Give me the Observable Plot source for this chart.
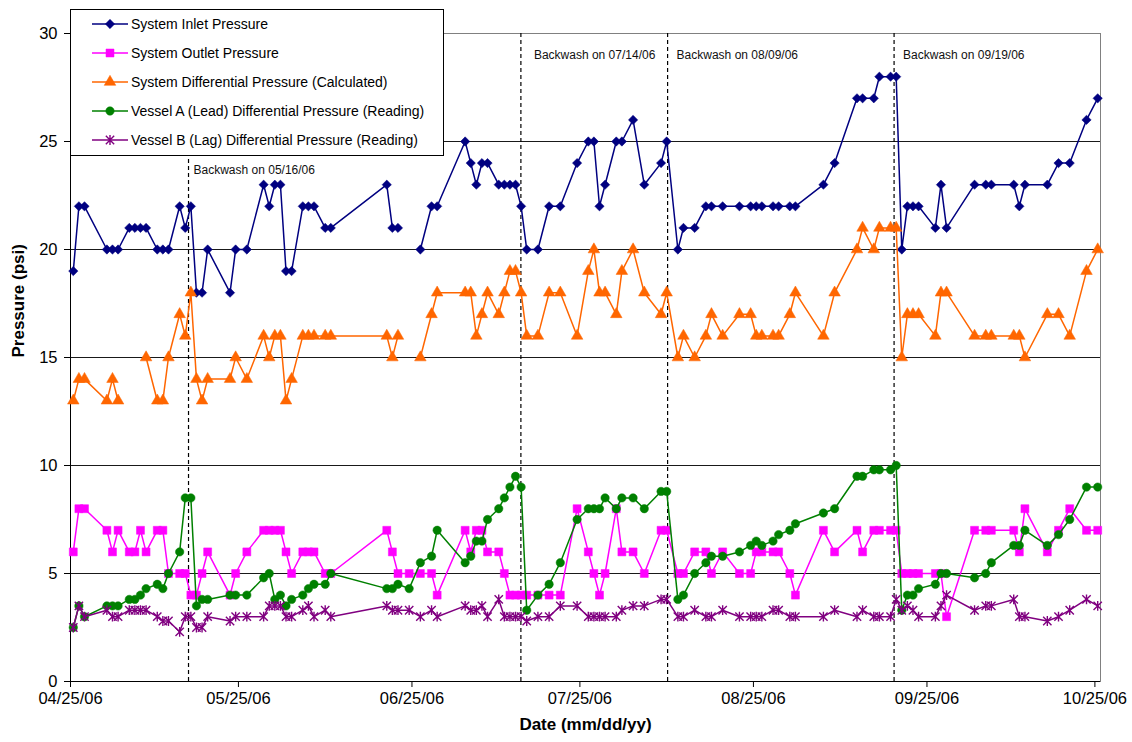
<!DOCTYPE html>
<html><head><meta charset="utf-8">
<script src="https://cdn.jsdelivr.net/npm/d3@7"></script>
<script src="https://cdn.jsdelivr.net/npm/@observablehq/plot@0.6"></script>
<style>
body{margin:0;background:#fff;font-family:"Liberation Sans",Arial,sans-serif}
</style>
</head><body><div id="chart"></div>
<script>
// ---------------- DATA ----------------
const dates = [
 "2006-04-25","2006-04-26","2006-04-27","2006-05-01","2006-05-02","2006-05-03","2006-05-05","2006-05-06","2006-05-07","2006-05-08",
 "2006-05-10","2006-05-11","2006-05-12","2006-05-14","2006-05-15","2006-05-16","2006-05-17","2006-05-18","2006-05-19","2006-05-23",
 "2006-05-24","2006-05-26","2006-05-29","2006-05-30","2006-05-31","2006-06-01","2006-06-02","2006-06-03","2006-06-05","2006-06-06",
 "2006-06-07","2006-06-09","2006-06-10","2006-06-20","2006-06-21","2006-06-22","2006-06-24","2006-06-26","2006-06-28","2006-06-29",
 "2006-07-04","2006-07-05","2006-07-06","2006-07-07","2006-07-08","2006-07-10","2006-07-11","2006-07-12","2006-07-13","2006-07-14",
 "2006-07-15","2006-07-17","2006-07-19","2006-07-21","2006-07-24","2006-07-26","2006-07-27","2006-07-28","2006-07-29","2006-07-31",
 "2006-08-01","2006-08-03","2006-08-05","2006-08-08","2006-08-09","2006-08-11","2006-08-12","2006-08-14","2006-08-16","2006-08-17",
 "2006-08-19","2006-08-22","2006-08-24","2006-08-25","2006-08-26","2006-08-28","2006-08-29","2006-08-31","2006-09-01","2006-09-06",
 "2006-09-08","2006-09-12","2006-09-13","2006-09-15","2006-09-16","2006-09-18","2006-09-19","2006-09-20","2006-09-21","2006-09-22",
 "2006-09-23","2006-09-26","2006-09-27","2006-09-28","2006-10-03","2006-10-05","2006-10-06","2006-10-10","2006-10-11","2006-10-12",
 "2006-10-16","2006-10-18","2006-10-20","2006-10-23","2006-10-25"
];
const inletPressure = [
 19,22,22,20,20,20,21,21,21,21,
 20,20,20,22,21,22,18,18,20,18,
 20,20,23,22,23,23,19,19,22,22,
 22,21,21,23,21,21,null,20,22,22,
 25,24,23,24,24,23,23,23,23,22,
 20,20,22,22,24,25,25,22,23,25,
 25,26,23,24,25,20,21,21,22,22,
 22,22,22,22,22,22,22,22,22,23,
 24,27,27,27,28,28,28,20,22,22,
 22,21,23,21,23,23,23,23,22,23,
 23,24,24,26,27
];
const outletPressure = [
 6,8,8,7,6,7,6,6,7,6,
 7,7,5,5,5,4,4,5,6,4,
 5,6,7,7,7,7,6,5,6,6,
 6,5,5,7,6,5,5,5,5,4,
 7,6,7,7,6,6,5,4,4,4,
 4,4,4,4,8,6,5,4,5,8,
 6,6,5,7,7,5,5,6,6,5,
 6,5,5,6,6,6,6,5,4,7,
 6,7,6,7,7,7,7,5,5,5,
 5,5,5,3,7,7,7,7,6,8,
 6,7,8,7,7
];
const systemDifferential = [
 13,14,14,13,14,13,null,null,null,15,
 13,13,15,17,16,18,14,13,14,14,
 15,14,16,15,16,16,13,14,16,16,
 16,16,16,16,15,16,null,15,17,18,
 18,18,16,17,18,17,18,19,19,18,
 16,16,18,18,16,19,20,18,18,17,
 19,20,18,17,18,15,16,15,16,17,
 16,17,17,16,16,16,16,17,18,16,
 18,20,21,20,21,21,21,15,17,17,
 17,16,18,18,16,16,16,16,16,15,
 17,17,16,19,20
];
const vesselADifferential = [
 2.5,3.5,3.0,3.5,3.5,3.5,3.8,3.8,4.0,4.3,
 4.5,4.3,5.0,6.0,8.5,8.5,3.5,3.8,3.8,4.0,
 4.0,4.0,4.8,5.0,3.8,4.0,3.5,3.8,4.0,4.3,
 4.5,4.5,5.0,4.3,4.3,4.5,4.3,5.5,5.8,7.0,
 5.5,5.8,6.5,6.5,7.5,8.0,8.5,9.0,9.5,9.0,
 3.3,4.0,4.5,5.5,7.5,8.0,8.0,8.0,8.5,8.0,
 8.5,8.5,8.0,8.8,8.8,3.8,4.0,5.0,5.5,5.8,
 5.8,6.0,6.3,6.5,6.3,6.5,6.8,7.0,7.3,7.8,
 8.0,9.5,9.5,9.8,9.8,9.8,10.0,3.3,4.0,4.0,
 4.3,4.5,5.0,5.0,4.8,5.0,5.5,6.3,6.3,7.0,
 6.3,6.8,7.5,9.0,9.0
];
const vesselBDifferential = [
 2.5,3.5,3.0,3.3,3.0,3.0,3.3,3.3,3.3,3.3,
 3.0,2.8,2.8,2.3,3.0,3.0,2.5,2.5,3.0,2.8,
 3.0,3.0,3.0,3.5,3.5,3.5,3.0,3.0,3.3,3.5,
 3.0,3.3,3.0,3.5,3.3,3.3,3.3,3.0,3.3,3.0,
 3.5,3.3,3.3,3.5,3.0,3.8,3.0,3.0,3.0,3.0,
 2.8,3.0,3.0,3.5,3.5,3.0,3.0,3.0,3.0,3.0,
 3.3,3.5,3.5,3.8,3.8,3.0,3.0,3.3,3.0,3.0,
 3.3,3.0,3.0,3.0,3.0,3.3,3.3,3.0,3.0,3.0,
 3.3,3.0,3.3,3.0,3.0,3.0,3.8,3.3,3.5,3.3,
 3.0,3.0,3.5,4.0,3.3,3.5,3.5,3.8,3.0,3.0,
 2.8,3.0,3.3,3.8,3.5
];
const seriesNames = [
 "System Inlet Pressure",
 "System Outlet Pressure",
 "System Differential Pressure (Calculated)",
 "Vessel A (Lead) Differential Pressure (Reading)",
 "Vessel B (Lag) Differential Pressure (Reading)"
];
const backwashTimes = ["2006-05-16T02:00","2006-07-14T11:00","2006-08-09T16:00","2006-09-19T03:00"];
const backwashLabels = ["Backwash on 05/16/06","Backwash on 07/14/06","Backwash on 08/09/06","Backwash on 09/19/06"];
const xTickDates = ["2006-04-25","2006-05-25","2006-06-25","2006-07-25","2006-08-25","2006-09-25","2006-10-25"];
const xDomain = ["2006-04-25","2006-10-26"];
const yTicks = [0,5,10,15,20,25,30];

// ---------------- BUILD ----------------
const parseDay = d3.utcParse("%Y-%m-%d");
const parseTime = d3.utcParse("%Y-%m-%dT%H:%M");

const star = {
  draw(ctx, size) {
    const a = Math.sqrt(size / Math.PI);
    const b = a * 0.85;
    ctx.moveTo(0, -a); ctx.lineTo(0, a);
    ctx.moveTo(-b, -b); ctx.lineTo(b, b);
    ctx.moveTo(-b, b); ctx.lineTo(b, -b);
  }
};

const seriesValues = [inletPressure, outletPressure, systemDifferential, vesselADifferential, vesselBDifferential];
const styles = [
  {color: "#000080", symbol: d3.symbolDiamond2, r: 4.2, filled: true},
  {color: "#FF00FF", symbol: d3.symbolSquare, r: 4.5, filled: true},
  {color: "#FF6600", symbol: d3.symbolTriangle, r: 4.3, filled: true},
  {color: "#008000", symbol: d3.symbolCircle, r: 4.2, filled: true},
  {color: "#800080", symbol: star, r: 4.9, filled: false}
];

// points sit at the centre of each day (Excel date axis)
const tables = seriesValues.map(vals =>
  dates.map((d, i) => ({date: d3.utcHour.offset(parseDay(d), 12), value: vals[i]}))
);

const seriesMarks = [];
tables.forEach((tbl, k) => {
  const s = styles[k];
  seriesMarks.push(Plot.line(tbl, {x: "date", y: "value", stroke: s.color, strokeWidth: 1.5}));
  seriesMarks.push(Plot.dot(tbl.filter(d => d.value != null), {
    x: "date", y: "value", symbol: () => s.symbol, r: s.r,
    fill: s.filled ? s.color : "none", stroke: s.color,
    strokeWidth: s.filled ? 0.5 : 1.4
  }));
});

const backwash = backwashTimes.map((t, i) => ({date: parseTime(t), label: backwashLabels[i]}));
const labelOffsets = [[5, 132], [13, 17], [9, 17], [9, 17]];

const svg = Plot.plot({
  width: 1132,
  height: 742,
  marginLeft: 70,
  marginRight: 32,
  marginTop: 33,
  marginBottom: 61,
  style: {fontFamily: "'Liberation Sans', Arial, sans-serif", fontSize: "16.5px", color: "#000", background: "#fff"},
  x: {type: "utc", domain: xDomain.map(parseDay)},
  y: {domain: [0, 30]},
  marks: [
    Plot.frame({stroke: "#808080"}),
    Plot.gridY({ticks: yTicks.filter(v => v > 0 && v < 30), stroke: "#000", strokeOpacity: 0.9}),
    Plot.axisY({ticks: yTicks, tickSize: 6, tickPadding: 7, label: null, fontSize: 16.5}),
    Plot.axisX({ticks: xTickDates.map(parseDay), tickFormat: d3.utcFormat("%m/%d/%y"), tickSize: 6, tickPadding: 5, label: null, fontSize: 16.5}),
    Plot.ruleY([0], {stroke: "#000"}),
    Plot.ruleX([parseDay(xDomain[0])], {stroke: "#000"}),
    Plot.ruleX(backwash, {x: "date", stroke: "#000", strokeDasharray: "4,3", strokeWidth: 1.2}),
    ...backwash.map((b, i) => Plot.text([b], {
      x: "date", text: "label", frameAnchor: "top", textAnchor: "start",
      dx: labelOffsets[i][0], dy: labelOffsets[i][1], fontSize: 12, fill: "#111"
    })),
    ...seriesMarks,
    Plot.text(["Pressure (psi)"], {frameAnchor: "left", rotate: -90, dx: -52, fontWeight: "bold", fontSize: 17}),
    Plot.text(["Date (mm/dd/yy)"], {frameAnchor: "bottom", dy: 48, fontWeight: "bold", fontSize: 17})
  ]
});

// legend box (overlapping the plot, top-left)
const g = d3.select(svg).append("g")
  .attr("font-family", "'Liberation Sans', Arial, sans-serif")
  .attr("text-anchor", "start");
g.append("rect").attr("x", 70.5).attr("y", 9.5).attr("width", 373).attr("height", 146)
  .attr("fill", "#fff").attr("stroke", "#000").attr("stroke-width", 1);
seriesNames.forEach((name, i) => {
  const s = styles[i];
  const cy = 24 + i * 29;
  g.append("line").attr("x1", 92).attr("x2", 128).attr("y1", cy).attr("y2", cy)
    .attr("stroke", s.color).attr("stroke-width", 1.5);
  g.append("path").attr("d", d3.symbol(s.symbol, Math.PI * s.r * s.r)())
    .attr("transform", `translate(110,${cy})`)
    .attr("fill", s.filled ? s.color : "none").attr("stroke", s.color)
    .attr("stroke-width", s.filled ? 0.5 : 1.4);
  g.append("text").attr("x", 131).attr("y", cy).attr("dy", "0.35em")
    .attr("text-anchor", "start")
    .attr("font-size", 14).attr("fill", "#000").text(name);
});

document.getElementById("chart").appendChild(svg);
</script>
</body></html>
